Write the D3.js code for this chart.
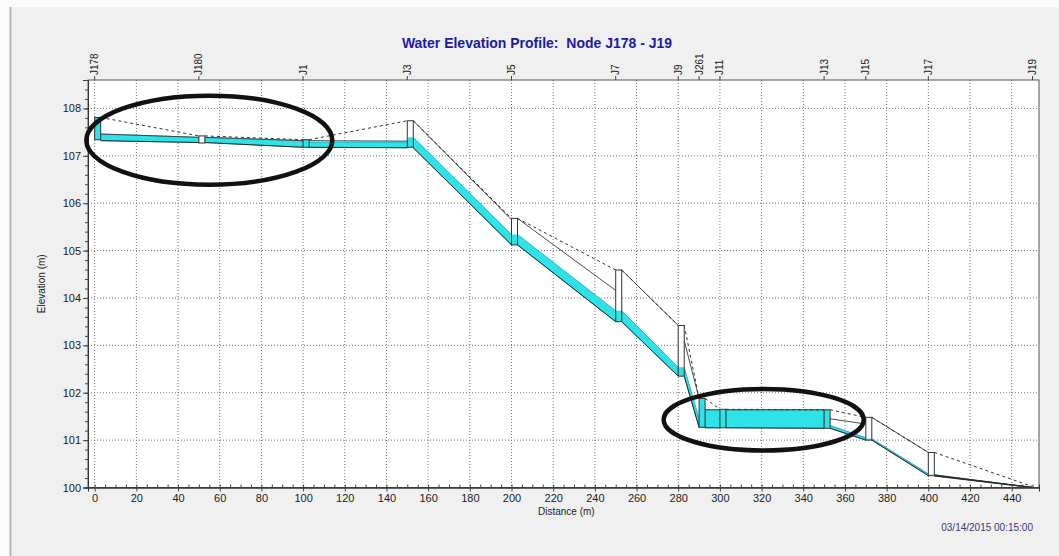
<!DOCTYPE html>
<html>
<head>
<meta charset="utf-8">
<script src="https://cdn.jsdelivr.net/npm/d3@7"></script>
<style>
  body { margin: 0; background: #fff; }
  text { font-family: "Liberation Sans", Arial, sans-serif; }
</style>
</head>
<body>
<div id="graph"></div>
<script>
// noeuds du profil (distance en m, élévations en m)
var nodeNames = ["J178", "J180", "J1", "J3", "J5", "J7", "J9", "J261", "J11", "J13", "J15", "J17", "J19"];
var nodeDist = [0, 50, 100, 150, 200, 250, 280, 290, 300, 350, 370, 400, 450];
var nodeInvert = [107.34, 107.27, 107.18, 107.18, 105.12, 103.50, 102.35, 101.27, 101.26, 101.25, 101.00, 100.25, 100.00];
var nodeRim = [107.81, 107.42, 107.34, 107.74, 105.68, 104.59, 103.42, 101.88, 101.65, 101.64, 101.48, 100.74, 100.02];
var nodeWater = [107.81, 107.27, 107.34, 107.39, 105.34, 103.73, 102.54, 101.88, 101.65, 101.64, 101.03, 100.27, 100.00];

// conduites (du noeud i au noeud i+1)
var linkInvertUp = [107.32, 107.28, 107.18, 107.17, 105.12, 103.50, 102.35, 101.26, 101.26, 101.25, 101.00, 100.25];
var linkInvertDn = [107.28, 107.18, 107.17, 105.12, 103.50, 102.35, 101.27, 101.26, 101.25, 101.00, 100.25, 100.00];
var linkCrownUp = [107.46, 107.39, 107.32, 107.74, 105.68, 104.59, 103.10, 101.64, 101.64, 101.45, 101.48, 100.27];
var linkCrownDn = [107.39, 107.32, 107.31, 105.65, 104.16, 103.42, 101.88, 101.64, 101.64, 101.34, 100.74, 100.00];
var linkWaterUp = [107.46, 107.39, 107.29, 107.39, 105.34, 103.73, 102.54, 101.64, 101.64, 101.31, 101.03, 100.25];
var linkWaterDn = [107.39, 107.32, 107.29, 105.34, 103.73, 102.54, 101.46, 101.64, 101.64, 101.05, 100.29, 100.00];

// graduations
var xTicks = d3.range(0, 441, 20);
var yTicks = d3.range(100, 108.01, 1);

// ellipses d'annotation (centre et rayons en unités des données)
var markCx = [55, 321], markCy = [107.33, 101.43], markRx = [59, 48], markRy = [0.94, 0.65];

var title = "Water Elevation Profile:  Node J178 - J19";
var stamp = "03/14/2015 00:15:00";

var totalWidth = 1059, totalHeight = 556,
    plot = {left: 88, top: 80, right: 1039, bottom: 487.5},
    boxW = 6;

var x = d3.scaleLinear().domain([-3.2, 453.1]).range([plot.left, plot.right]),
    y = d3.scaleLinear().domain([100, 108.6]).range([plot.bottom, plot.top]);

var svg = d3.select("#graph").append("svg")
    .attr("width", totalWidth)
    .attr("height", totalHeight);

// fond de la fenêtre
svg.append("rect").attr("width", totalWidth).attr("height", totalHeight).attr("fill", "#fbfbfb");
svg.append("rect").attr("x", 12).attr("y", 7).attr("width", totalWidth - 12).attr("height", totalHeight - 7).attr("fill", "#f0f0f0");
svg.append("line").attr("x1", 10.5).attr("x2", 10.5).attr("y1", 7).attr("y2", totalHeight)
    .attr("stroke", "#b4b4b4").attr("stroke-width", 2);

// zone du graphique
svg.append("rect")
    .attr("x", plot.left).attr("y", plot.top)
    .attr("width", plot.right - plot.left).attr("height", plot.bottom - plot.top)
    .attr("fill", "#fff");

// grille pointillée
svg.selectAll(".vgrid").data(xTicks).enter().append("line")
    .attr("x1", function(d) { return x(d); }).attr("x2", function(d) { return x(d); })
    .attr("y1", plot.top).attr("y2", plot.bottom)
    .attr("stroke", "#777").attr("stroke-dasharray", "1,2");
svg.selectAll(".hgrid").data(yTicks).enter().append("line")
    .attr("x1", plot.left).attr("x2", plot.right)
    .attr("y1", function(d) { return y(d); }).attr("y2", function(d) { return y(d); })
    .attr("stroke", "#777").attr("stroke-dasharray", "1,2");

var links = d3.range(nodeNames.length - 1);
function xa(i) { return x(nodeDist[i]) + boxW; }
function xb(i) { return x(nodeDist[i + 1]); }

// eau dans les conduites
svg.selectAll(".water").data(links).enter().append("path")
    .attr("d", function(i) {
        return "M" + xa(i) + "," + y(linkInvertUp[i]) +
            "L" + xb(i) + "," + y(linkInvertDn[i]) +
            "L" + xb(i) + "," + y(linkWaterDn[i]) +
            "L" + xa(i) + "," + y(linkWaterUp[i]) + "Z";
    })
    .attr("fill", "#2de3e8")
    .attr("stroke", function(i) { return i >= 9 ? "#2a7fc0" : "#1fa9b8"; })
    .attr("stroke-width", 0.8);

// voûte et radier des conduites
svg.selectAll(".crown").data(links).enter().append("line")
    .attr("x1", xa).attr("x2", xb)
    .attr("y1", function(i) { return y(linkCrownUp[i]); })
    .attr("y2", function(i) { return y(linkCrownDn[i]); })
    .attr("stroke", "#3a3a3a").attr("stroke-width", 0.9);
svg.selectAll(".invert").data(links).enter().append("line")
    .attr("x1", xa).attr("x2", xb)
    .attr("y1", function(i) { return y(linkInvertUp[i]); })
    .attr("y2", function(i) { return y(linkInvertDn[i]); })
    .attr("stroke", "#2a2a2a").attr("stroke-width", function(i) { return i == 11 ? 1.6 : 1; });

// ligne du terrain (pointillés)
svg.selectAll(".ground").data(links).enter().append("line")
    .attr("x1", xa).attr("x2", xb)
    .attr("y1", function(i) { return y(nodeRim[i]); })
    .attr("y2", function(i) { return y(nodeRim[i + 1]); })
    .attr("stroke", "#333").attr("stroke-width", 1).attr("stroke-dasharray", "3,3");

// regards (noeuds)
var boxes = svg.selectAll(".node").data(d3.range(nodeNames.length - 1)).enter().append("g");
boxes.append("rect")
    .attr("x", function(i) { return x(nodeDist[i]); })
    .attr("y", function(i) { return y(nodeRim[i]); })
    .attr("width", boxW)
    .attr("height", function(i) { return y(nodeInvert[i]) - y(nodeRim[i]); })
    .attr("fill", "#fff");
boxes.append("rect")
    .attr("x", function(i) { return x(nodeDist[i]); })
    .attr("y", function(i) { return y(nodeWater[i]); })
    .attr("width", boxW)
    .attr("height", function(i) { return y(nodeInvert[i]) - y(nodeWater[i]); })
    .attr("fill", "#2de3e8");
boxes.append("rect")
    .attr("x", function(i) { return x(nodeDist[i]); })
    .attr("y", function(i) { return y(nodeRim[i]); })
    .attr("width", boxW)
    .attr("height", function(i) { return y(nodeInvert[i]) - y(nodeRim[i]); })
    .attr("fill", "none").attr("stroke", "#333").attr("stroke-width", 1);

// cadre
svg.append("rect")
    .attr("x", plot.left).attr("y", plot.top)
    .attr("width", plot.right - plot.left).attr("height", plot.bottom - plot.top)
    .attr("fill", "none").attr("stroke", "#555");

// axes
svg.append("g").attr("transform", "translate(0," + plot.bottom + ")")
    .call(d3.axisBottom(x).tickValues(xTicks).tickSize(4).tickPadding(3));
svg.append("g").attr("transform", "translate(0," + plot.bottom + ")")
    .call(d3.axisBottom(x).tickValues(d3.range(0, 451, 5)).tickSize(-3).tickFormat(""));
svg.append("g").attr("transform", "translate(" + plot.left + ",0)")
    .call(d3.axisLeft(y).tickValues(yTicks).tickSize(5).tickPadding(2).tickFormat(d3.format("d")));
svg.append("g").attr("transform", "translate(" + plot.left + ",0)")
    .call(d3.axisLeft(y).tickValues(d3.range(100, 108.61, 0.2)).tickSize(3).tickFormat(""));
svg.selectAll(".domain").attr("stroke", "#333");
svg.selectAll(".tick line").attr("stroke", "#444");
svg.selectAll(".tick text").attr("font-size", 11).attr("fill", "#222")
    .attr("font-family", "Liberation Sans, Arial, sans-serif");

// étiquettes des noeuds en haut
var tops = svg.selectAll(".nlabel").data(d3.range(nodeNames.length)).enter().append("g")
    .attr("transform", function(i) { return "translate(" + x(nodeDist[i]) + "," + plot.top + ")"; });
tops.append("line").attr("y1", -4).attr("y2", 0).attr("stroke", "#444");
tops.append("text")
    .attr("transform", "translate(0,-5) rotate(-90)")
    .attr("dy", "0.35em")
    .attr("font-size", 10)
    .attr("fill", "#222")
    .text(function(i) { return nodeNames[i]; });

// ellipses
svg.selectAll(".mark").data([0, 1]).enter().append("ellipse")
    .attr("cx", function(i) { return x(markCx[i]); })
    .attr("cy", function(i) { return y(markCy[i]); })
    .attr("rx", function(i) { return x(markCx[i] + markRx[i]) - x(markCx[i]); })
    .attr("ry", function(i) { return y(markCy[i] - markRy[i]) - y(markCy[i]); })
    .attr("fill", "none").attr("stroke", "#111").attr("stroke-width", 4.5);

// textes
svg.append("text")
    .attr("x", 537).attr("y", 48)
    .attr("text-anchor", "middle")
    .attr("font-size", 14).attr("font-weight", "bold")
    .attr("fill", "#1c1ca0")
    .style("white-space", "pre")
    .text(title);
svg.append("text")
    .attr("x", 538).attr("y", 515)
    .attr("font-size", 10).attr("fill", "#222")
    .text("Distance (m)");
svg.append("text")
    .attr("transform", "translate(45," + ((plot.top + plot.bottom) / 2) + ") rotate(-90)")
    .attr("text-anchor", "middle")
    .attr("font-size", 10).attr("fill", "#222")
    .text("Elevation (m)");
svg.append("text")
    .attr("x", 1033).attr("y", 531)
    .attr("text-anchor", "end")
    .attr("font-size", 10).attr("fill", "#3a3a7a")
    .text(stamp);
</script>
</body>
</html>
